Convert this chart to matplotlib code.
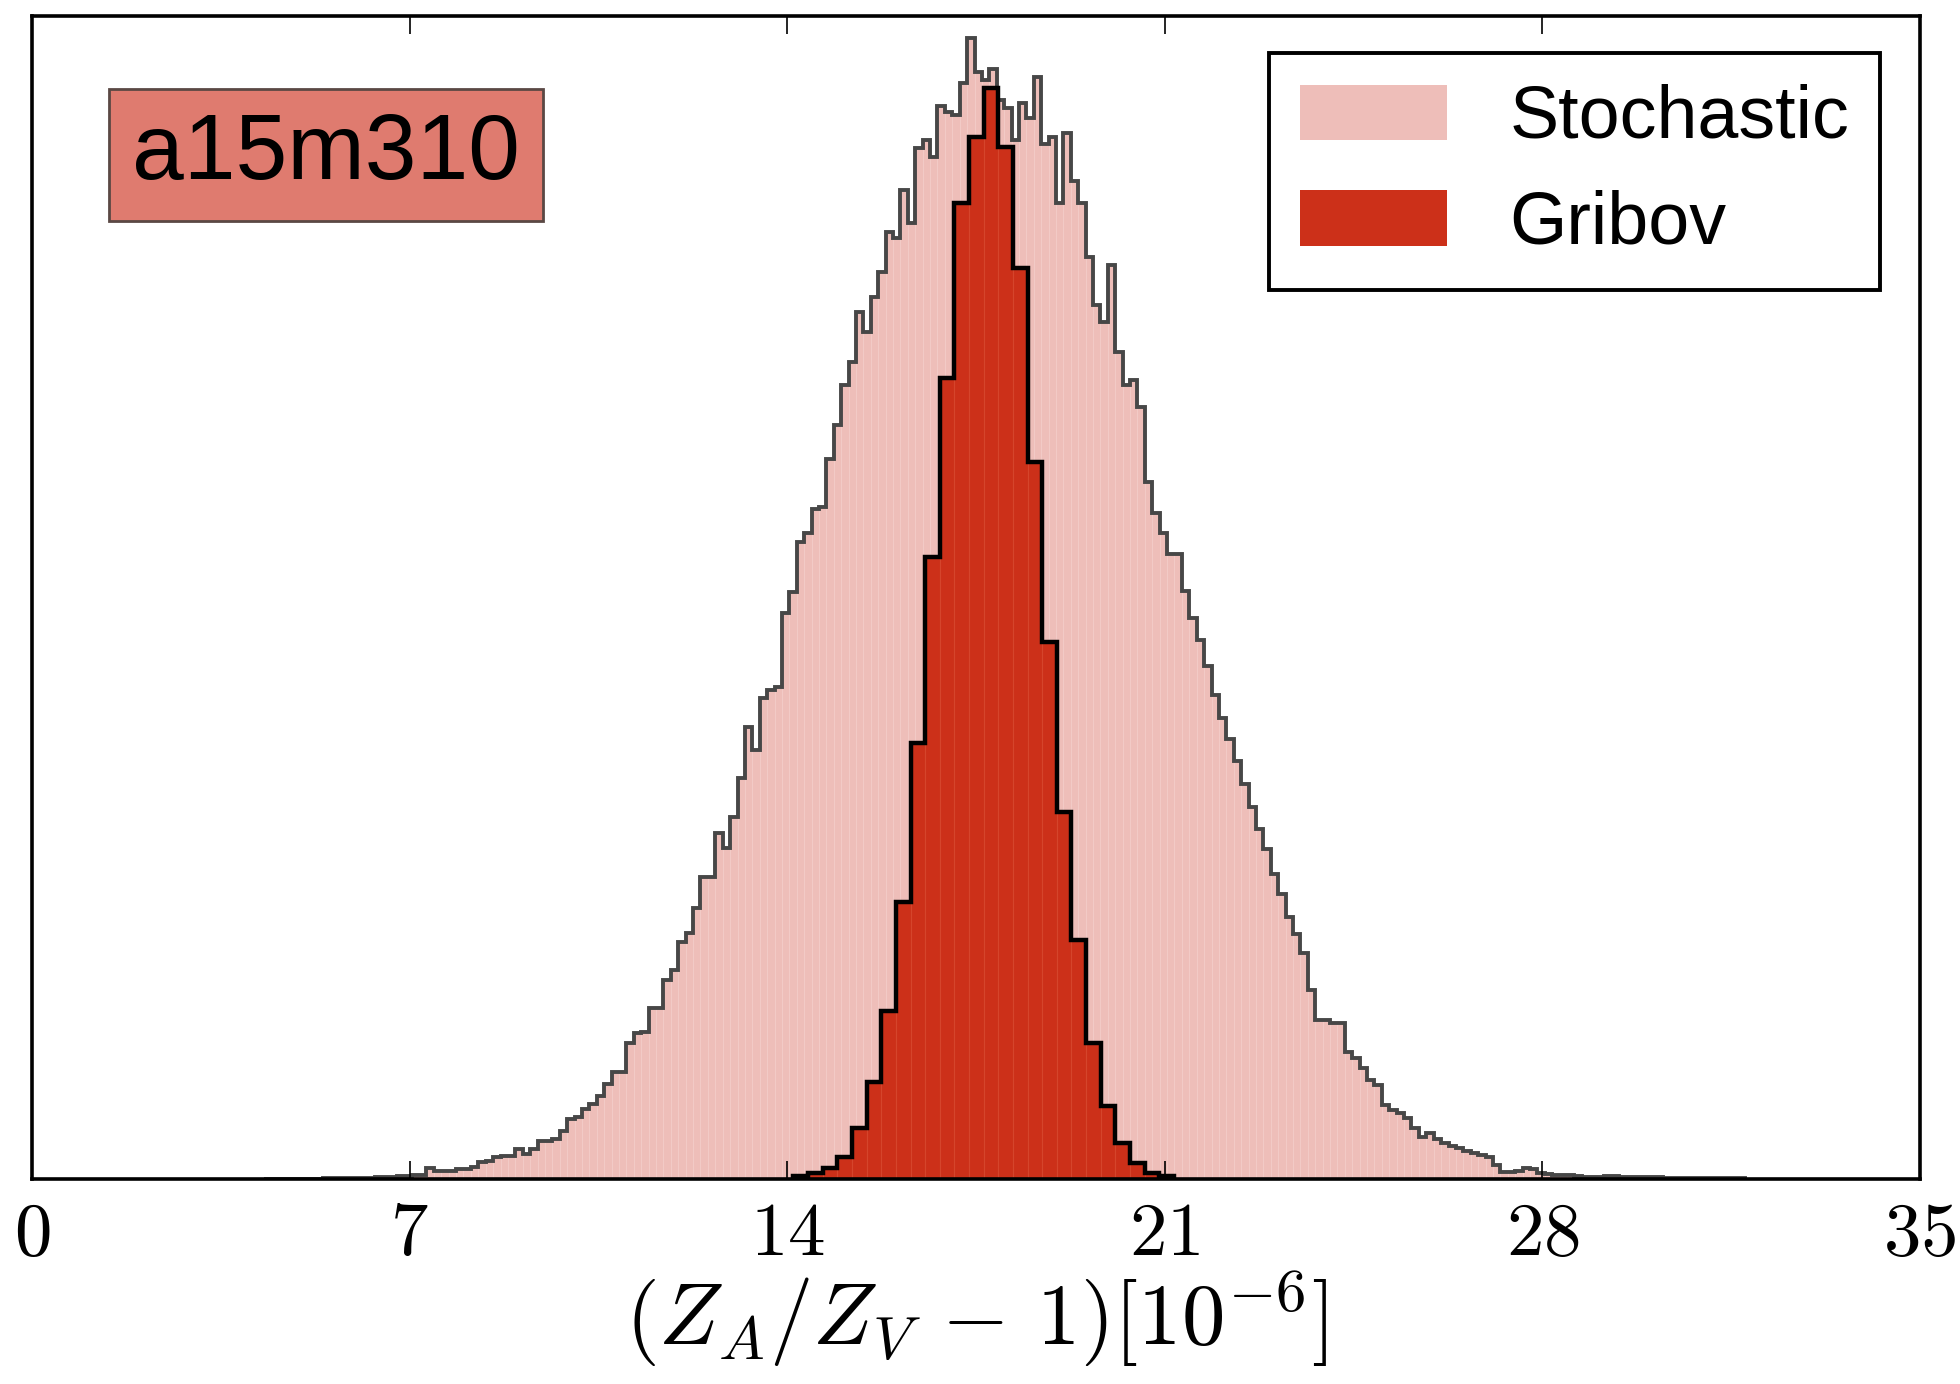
import numpy as np
import matplotlib.pyplot as plt
from matplotlib.patches import Patch

plt.rcParams['mathtext.fontset'] = 'cm'
plt.rcParams['font.family'] = ['Liberation Sans', 'DejaVu Sans']

# bar heights (arbitrary units, y axis has no scale)
stoch_lo, stoch_hi = 4.293, 31.751
stoch_counts = [
    # left tail
    0.5, 0.5, 0.5, 0.5, 0.5, 0.5, 0.5, 0.5, 1, 1, 1, 1, 1.5, 1.5, 1.5,
    2, 2, 2, 3, 3, 4, 4, 11, 8, 8, 8, 10, 10,
    12, 17, 18, 22, 23, 23, 30, 25, 30, 38, 38, 40, 48, 60, 62, 70, 75, 83, 95,
    # left flank
    107, 107, 136, 146, 147, 171, 171, 199, 209, 237,
    246, 271, 302, 302, 346, 331, 362, 401, 452, 429,
    481, 489, 492, 566, 587, 637, 646, 670, 672, 720,
    # top
    754, 794, 817, 867, 847, 882, 907, 947, 941, 989,
    956, 1031, 1039, 1022, 1073, 1067, 1064, 1096, 1141, 1107,
    1099, 1110, 1079, 1071, 1039, 1076, 1061, 1102, 1035, 1042,
    976, 1046, 998, 976, 922, 874, 857, 914, 827, 794,
    799, 772, 697, 666, 646, 625, 625, 588, 561, 539,
    513, 484, 461,
    # right flank
    440, 418, 395, 372, 350, 330, 305, 285, 262, 245,
    226, 189, 159, 159, 156, 156, 127, 121, 111, 99,
    94, 74, 69, 66, 61, 51, 42, 46,
    40, 36, 33, 31, 28, 26,
    # right tail
    24, 22, 14, 7, 7, 8, 11, 10, 6, 5,
    4, 4, 4, 3, 2.5, 2.5, 2.5, 3.5, 3, 2,
    2, 1.7, 1.7, 2.5, 2, 1.2, 1, 1, 1, 1,
    1, 1, 1, 1, 1.5, 1,
]
gribov_lo, gribov_hi = 14.117, 21.167
gribov_counts = [3, 6, 11, 22, 51, 97, 168, 277, 436, 622, 801, 976, 1042,
                 1091, 1032, 911, 717, 537, 367, 239, 136, 73, 36, 16, 6, 3]

xticks = [0, 7, 14, 21, 28, 35]
series_names = ['Stochastic', 'Gribov']
ensemble = 'a15m310'

stoch_fill = '#EEBEB9'
gribov_fill = '#CC3019'

stoch_edges = np.linspace(stoch_lo, stoch_hi, len(stoch_counts) + 1)
gribov_edges = np.linspace(gribov_lo, gribov_hi, len(gribov_counts) + 1)

fig = plt.figure(figsize=(9.8, 6.92), dpi=200)
ax = fig.add_axes([0.0163, 0.1481, 0.9633, 0.8403])

ax.bar(stoch_edges[:-1], stoch_counts, width=np.diff(stoch_edges), align='edge',
       color=stoch_fill, edgecolor='#F3CCC7', linewidth=0.3)
ax.stairs(stoch_counts, stoch_edges, color='#474747', linewidth=1.4, baseline=0)
ax.bar(gribov_edges[:-1], gribov_counts, width=np.diff(gribov_edges), align='edge',
       color=gribov_fill, edgecolor='#D5452C', linewidth=0.4)
ax.stairs(gribov_counts, gribov_edges, color='black', linewidth=1.6, baseline=0)

ax.set_xlim(0, 35)
ax.set_ylim(0, 1163)
ax.set_xticks(xticks)
ax.set_xticklabels([f'${t}$' for t in xticks], fontsize=27)
ax.set_yticks([])
ax.tick_params(axis='x', direction='in', top=True, length=6.5, width=0.6, pad=8)
for sp in ax.spines.values():
    sp.set_linewidth(1.3)

ax.set_xlabel(r'$(Z_A/Z_V\,-\,1)[10^{-6}]$', fontsize=31.3, labelpad=0)

ax.text(0.1557, 0.8805, ensemble, transform=ax.transAxes, ha='center', va='center',
        fontsize=33.5,
        bbox=dict(boxstyle='square,pad=0.25', facecolor='#DF7B6F',
                  edgecolor='#5A4844', linewidth=1.0))

handles = [Patch(facecolor=stoch_fill, edgecolor='none', label=series_names[0]),
           Patch(facecolor=gribov_fill, edgecolor='none', label=series_names[1])]
leg = ax.legend(handles=handles, loc='upper right', bbox_to_anchor=(0.9788, 0.9682),
                borderaxespad=0, fontsize=26.5, fancybox=False, framealpha=1,
                edgecolor='black', handlelength=2.0, handleheight=0.78,
                handletextpad=0.84, borderpad=0.42, labelspacing=0.5)
leg.get_frame().set_linewidth(1.4)

fig.savefig('out.png', dpi=200)
